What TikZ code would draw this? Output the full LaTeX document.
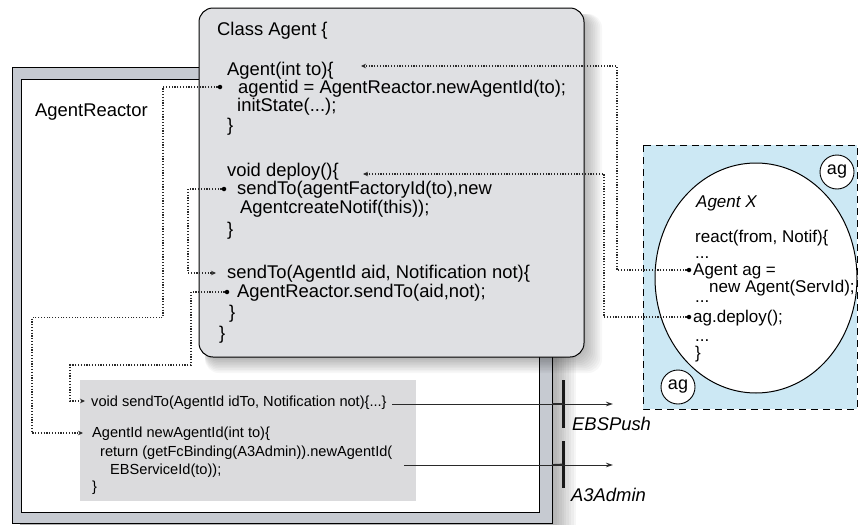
\documentclass[tikz,border=0pt]{standalone}
\usepackage{fontspec}
\setmainfont{Liberation Sans}
\usetikzlibrary{arrows.meta,shapes.geometric}
\definecolor{framegray}{HTML}{C6CAD1}
\definecolor{classgray}{HTML}{DFE0E3}
\definecolor{codegray}{HTML}{DBDBDD}
\definecolor{agblue}{HTML}{CCE8F4}
\definecolor{linec}{HTML}{2A2A2A}
\tikzset{
  big/.style={font=\fontsize{18.4}{20}\selectfont, anchor=base west, inner sep=0pt},
  bigit/.style={font=\fontsize{18.4}{20}\selectfont\itshape, anchor=base west, inner sep=0pt},
  mid/.style={font=\fontsize{17}{19}\selectfont, anchor=base west, inner sep=0pt},
  midit/.style={font=\fontsize{17}{19}\selectfont\itshape, anchor=base west, inner sep=0pt},
  small/.style={font=\fontsize{14.6}{16}\selectfont, anchor=base west, inner sep=0pt},
  dotline/.style={draw=linec, line width=1.1pt, dash pattern=on 1.1pt off 1.7pt},
  dotarrow/.style={dotline, -{Stealth[length=5pt,width=4.5pt]}},
  bullet/.style={circle, fill=black, inner sep=0pt, minimum size=4.5pt},
  port/.style={draw=linec, line width=0.9pt, -{Stealth[length=7pt,width=4.5pt]}},
  portbar/.style={fill=black!90, minimum width=3pt, inner sep=0pt},
  agcircle/.style={circle, draw, line width=0.9pt, fill=white, minimum size=34pt, inner sep=0pt, font=\fontsize{18}{20}\selectfont},
}
\begin{document}
\begin{tikzpicture}[x=1pt,y=-1pt]
\useasboundingbox (0,0) rectangle (860,525);
% outer frame with shadow
\foreach \i in {1,...,10} { \fill[black,opacity=0.035] (20,75) rectangle (552+2.4*\i,525); }
\draw[fill=framegray, line width=0.8pt] (12,67) rectangle (552,523);
\draw[fill=white, line width=0.8pt] (21,79) rectangle (539,512);
\node[big] (reactorlbl) at (35,116) {AgentReactor};
% class box with shadow
\foreach \i in {1,...,10} { \fill[black,opacity=0.03, rounded corners=14pt] (205,14) rectangle (584+1.8*\i,357+1.6*\i); }
\draw[fill=classgray, rounded corners=14pt, line width=1pt] (199,8) rectangle (584,357);
\node[big] (tclass) at (217,35) {Class Agent \{};
\node[big] (tctor) at (227,75) {Agent(int to)\{};
\node[big] (tagid) at (238,93) {agentid = AgentReactor.newAgentId(to);};
\node[big] (tinit) at (237,111) {initState(...);};
\node[big] (tb1) at (227,131) {\}};
\node[big] (tdeploy) at (227,176) {void deploy()\{};
\node[big] (tsend1) at (237,194) {sendTo(agentFactoryId(to),new};
\node[big] (tnotif) at (240,213) {AgentcreateNotif(this));};
\node[big] (tb2) at (227,235) {\}};
\node[big] (tsend2) at (227,278) {sendTo(AgentId aid, Notification not)\{};
\node[big] (tsend3) at (237,297) {AgentReactor.sendTo(aid,not);};
\node[big] (tb3) at (229,318) {\}};
\node[big] (tb4) at (219,339) {\}};
% small code box
\fill[codegray] (80,380) rectangle (416,501);
\node[small] (tvoid) at (91,406) {void sendTo(AgentId idTo, Notification not)\{...\}};
\node[small] (tnew) at (92,437) {AgentId newAgentId(int to)\{};
\node[small] (tret) at (100,456) {return (getFcBinding(A3Admin)).newAgentId(};
\node[small] (tebs) at (110,474) {EBServiceId(to));};
\node[small] (tb5) at (92,491) {\}};
% agent X
\draw[fill=agblue, line width=1pt, dash pattern=on 7pt off 5pt] (643,145) rectangle (857,409);
\node[draw, ellipse, fill=white, line width=1pt, minimum width=202pt, minimum height=230pt, inner sep=0pt] (agentx) at (756,278) {};
\node[agcircle] (agtop) at (837,172) {ag};
\node[agcircle] (agbot) at (678,387) {ag};
\node[midit] (tax) at (696,207) {Agent X};
\node[mid] (treact) at (695,242) {react(from, Notif)\{};
\node[mid] (tdots1) at (695,258) {...};
\node[mid] (tagag) at (693,275) {Agent ag =};
\node[mid] (tnewag) at (709,292) {new Agent(ServId);};
\node[mid] (tdots2) at (695,302) {...};
\node[mid] (tdeploycall) at (693,322) {ag.deploy();};
\node[mid] (tdots3) at (695,341) {...};
\node[mid] (tb6) at (695,358) {\}};
% ports
\node[portbar, minimum height=48pt] (ebsbar) at (563,404) {};
\node[portbar, minimum height=47pt] (a3bar) at (563,464.5) {};
\node[bigit] (ebslbl) at (572,430) {EBSPush};
\node[bigit] (a3lbl) at (571,501) {A3Admin};
\coordinate (ebsstart) at (392,404);
\coordinate (ebsend) at (613,404);
\coordinate (a3start) at (404,465);
\coordinate (a3end) at (613,465);
\coordinate (ebsstub) at (552,404);
\coordinate (a3stub) at (552,465);
\draw[port] (ebsstart) -- (ebsend);
\draw[port] (a3start) -- (a3end);
\draw[linec, line width=1.8pt] (ebsstub) -- (ebsbar.center);
\draw[linec, line width=1.8pt] (a3stub) -- (a3bar.center);
% dotted connectors
\node[bullet] (d1) at (220,87) {};
\node[bullet] (d2) at (224,189) {};
\node[bullet] (d3) at (227,292) {};
\node[bullet] (d4) at (689,270) {};
\node[bullet] (d5) at (689,317) {};
\coordinate (c1a) at (163,317.5);
\coordinate (c1b) at (32,433);
\coordinate (c1e) at (83,433);
\draw[dotarrow] (d1) -| (c1a) -| (c1b) -- (c1e);
\coordinate (c2a) at (188,273);
\coordinate (c2e) at (216,273);
\draw[dotarrow] (d2) -| (c2a) -- (c2e);
\coordinate (c3a) at (191,365);
\coordinate (c3b) at (70,401);
\coordinate (c3e) at (85,401);
\draw[dotarrow] (d3) -| (c3a) -| (c3b) -- (c3e);
\coordinate (c4a) at (617,66);
\coordinate (c4e) at (361,66);
\draw[dotarrow] (d4) -| (c4a) -- (c4e);
\coordinate (c5a) at (604,174);
\coordinate (c5e) at (363,174);
\draw[dotarrow] (d5) -| (c5a) -- (c5e);
\end{tikzpicture}
\end{document}
